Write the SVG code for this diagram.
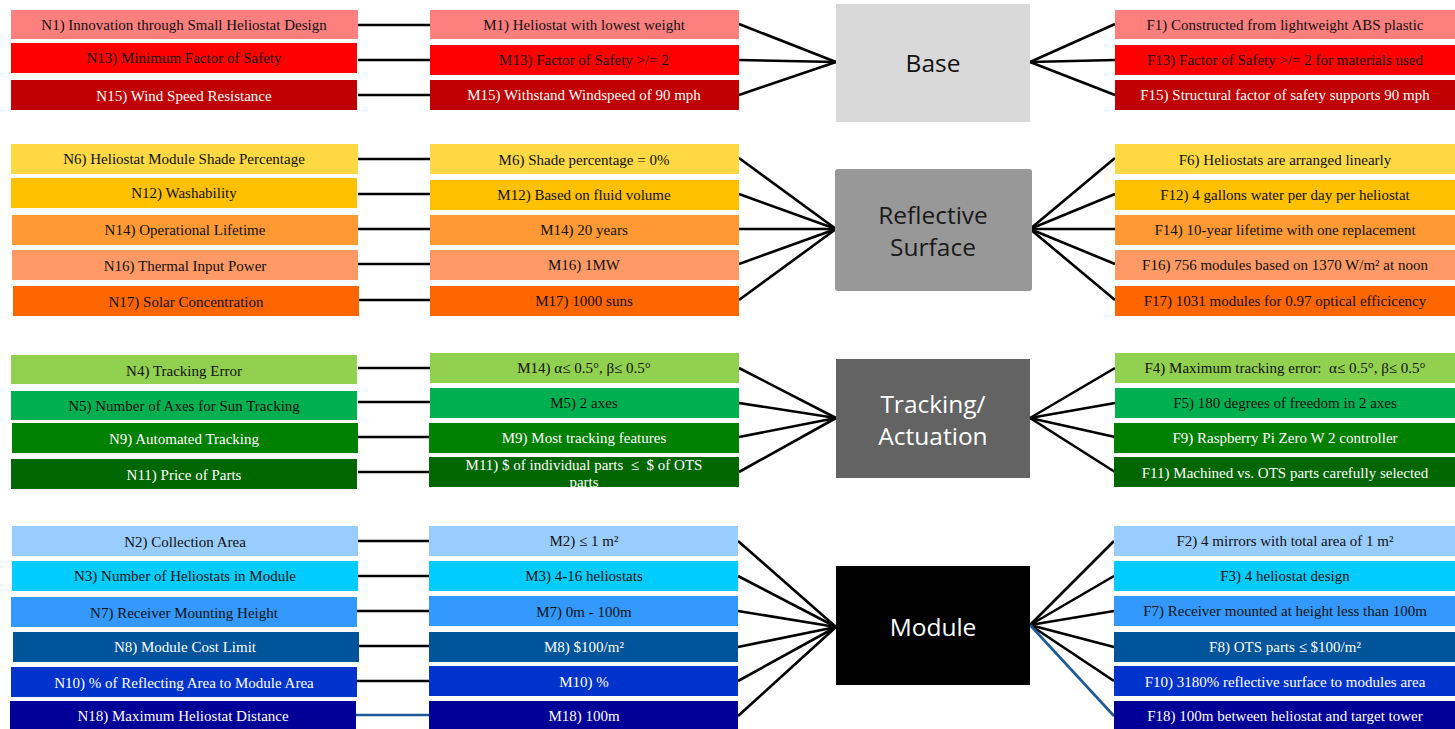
<svg xmlns="http://www.w3.org/2000/svg" width="1455" height="729" viewBox="0 0 1455 729">
<style>
text{font-family:"Liberation Serif","Times New Roman",serif;font-size:15px;text-anchor:middle}
.d{fill:#111}
.w{fill:#fff}
.hub{font-family:"Open Sans","Noto Sans","DejaVu Sans",sans-serif;font-size:24.5px}
.c line{stroke:#000;stroke-width:2.6}
.c line.b{stroke:#1f5a96}
</style>
<defs>
<clipPath id="m11clip"><rect x="429" y="457" width="310" height="30"/></clipPath>
</defs>
<rect width="1455" height="729" fill="#fff"/>

<g class="c" id="connectors">
<!-- Base -->
<line x1="358" y1="25" x2="430" y2="25"/>
<line x1="358" y1="60" x2="430" y2="60"/>
<line x1="358" y1="95" x2="430" y2="95"/>
<line x1="739" y1="24" x2="836" y2="62"/>
<line x1="739" y1="60" x2="836" y2="62"/>
<line x1="739" y1="95" x2="836" y2="62"/>
<line x1="1030" y1="62" x2="1115" y2="24"/>
<line x1="1030" y1="62" x2="1115" y2="60"/>
<line x1="1030" y1="62" x2="1115" y2="95"/>
<!-- Reflective -->
<line x1="358" y1="159" x2="430" y2="159"/>
<line x1="358" y1="194" x2="430" y2="194"/>
<line x1="358" y1="229" x2="430" y2="229"/>
<line x1="358" y1="264" x2="430" y2="264"/>
<line x1="358" y1="300" x2="430" y2="300"/>
<line x1="739" y1="158" x2="836" y2="229"/>
<line x1="739" y1="194" x2="836" y2="229"/>
<line x1="739" y1="229" x2="836" y2="229"/>
<line x1="739" y1="264" x2="836" y2="229"/>
<line x1="739" y1="300" x2="836" y2="229"/>
<line x1="1030" y1="229" x2="1115" y2="158"/>
<line x1="1030" y1="229" x2="1115" y2="194"/>
<line x1="1030" y1="229" x2="1115" y2="229"/>
<line x1="1030" y1="229" x2="1115" y2="264"/>
<line x1="1030" y1="229" x2="1115" y2="300"/>
<!-- Tracking -->
<line x1="358" y1="368" x2="430" y2="368"/>
<line x1="358" y1="402" x2="430" y2="402"/>
<line x1="358" y1="437" x2="430" y2="437"/>
<line x1="358" y1="472" x2="430" y2="472"/>
<line x1="739" y1="368" x2="836" y2="418"/>
<line x1="739" y1="403" x2="836" y2="418"/>
<line x1="739" y1="437" x2="836" y2="418"/>
<line x1="739" y1="472" x2="836" y2="418"/>
<line x1="1030" y1="418" x2="1115" y2="368"/>
<line x1="1030" y1="418" x2="1115" y2="403"/>
<line x1="1030" y1="418" x2="1115" y2="437"/>
<line x1="1030" y1="418" x2="1115" y2="472"/>
<!-- Module -->
<line x1="357" y1="541" x2="429" y2="541"/>
<line x1="357" y1="576" x2="429" y2="576"/>
<line x1="357" y1="611" x2="429" y2="611"/>
<line x1="357" y1="646" x2="429" y2="646"/>
<line x1="357" y1="681" x2="429" y2="681"/>
<line class="b" x1="356" y1="715" x2="429" y2="715"/>
<line x1="738" y1="541" x2="836" y2="627"/>
<line x1="738" y1="576" x2="836" y2="627"/>
<line x1="738" y1="611" x2="836" y2="627"/>
<line x1="738" y1="647" x2="836" y2="627"/>
<line x1="738" y1="681" x2="836" y2="627"/>
<line x1="738" y1="716" x2="836" y2="627"/>
<line x1="1030" y1="625" x2="1114" y2="541"/>
<line x1="1030" y1="625" x2="1114" y2="576"/>
<line x1="1030" y1="625" x2="1114" y2="611"/>
<line x1="1030" y1="625" x2="1114" y2="647"/>
<line x1="1030" y1="625" x2="1114" y2="681"/>
<line class="b" x1="1030" y1="625" x2="1114" y2="716"/>
</g>

<!-- Hubs -->
<g id="hub-base"><rect x="836" y="4" width="194" height="118" fill="#d9d9d9"/><text class="hub d" x="933" y="72">Base</text></g>
<g id="hub-reflective"><rect x="835" y="169" width="197" height="122" rx="3" fill="#989898"/><text class="hub" fill="#1a1a1a" x="933" y="224">Reflective</text><text class="hub" fill="#1a1a1a" x="933" y="256">Surface</text></g>
<g id="hub-tracking"><rect x="836" y="359" width="194" height="119" fill="#636363"/><text class="hub w" x="933" y="413">Tracking/</text><text class="hub w" x="933" y="445">Actuation</text></g>
<g id="hub-module"><rect x="836" y="566" width="194" height="119" fill="#000"/><text class="hub w" x="933" y="636">Module</text></g>

<!-- Base row -->
<g id="N1"><rect x="11" y="10" width="347" height="29" fill="#ff7f7f"/><text class="d" x="184" y="30">N1) Innovation through Small Heliostat Design</text></g>
<g id="N13"><rect x="11" y="43" width="346" height="30" fill="#ff0000"/><text class="d" x="184" y="63">N13) Minimum Factor of Safety</text></g>
<g id="N15"><rect x="11" y="80" width="346" height="30" fill="#c00000"/><text class="w" x="184" y="101">N15) Wind Speed Resistance</text></g>
<g id="M1"><rect x="430" y="10" width="309" height="29" fill="#ff7f7f"/><text class="d" x="584" y="30">M1) Heliostat with lowest weight</text></g>
<g id="M13"><rect x="430" y="45" width="309" height="30" fill="#ff0000"/><text class="d" x="584" y="65">M13) Factor of Safety &gt;/= 2</text></g>
<g id="M15"><rect x="430" y="80" width="309" height="30" fill="#c00000"/><text class="w" x="584" y="100">M15) Withstand Windspeed of 90 mph</text></g>
<g id="F1"><rect x="1115" y="10" width="340" height="29" fill="#ff7f7f"/><text class="d" x="1285" y="30">F1) Constructed from lightweight ABS plastic</text></g>
<g id="F13"><rect x="1115" y="45" width="340" height="30" fill="#ff0000"/><text class="d" x="1285" y="65">F13) Factor of Safety &gt;/= 2 for materials used</text></g>
<g id="F15"><rect x="1115" y="80" width="340" height="30" fill="#c00000"/><text class="w" x="1285" y="100">F15) Structural factor of safety supports 90 mph</text></g>

<!-- Reflective row -->
<g id="N6"><rect x="11" y="144" width="347" height="30" fill="#ffd944"/><text class="d" x="184" y="164">N6) Heliostat Module Shade Percentage</text></g>
<g id="N12"><rect x="11" y="178" width="346" height="30" fill="#ffc000"/><text class="d" x="184" y="198">N12) Washability</text></g>
<g id="N14"><rect x="12" y="215" width="346" height="30" fill="#ff9933"/><text class="d" x="185" y="235">N14) Operational Lifetime</text></g>
<g id="N16"><rect x="12" y="250" width="346" height="30" fill="#ff9966"/><text class="d" x="185" y="271">N16) Thermal Input Power</text></g>
<g id="N17"><rect x="13" y="286" width="346" height="30" fill="#ff6600"/><text class="d" x="186" y="307">N17) Solar Concentration</text></g>
<g id="M6"><rect x="430" y="144" width="309" height="30" fill="#ffd944"/><text class="d" x="584" y="165">M6) Shade percentage = 0%</text></g>
<g id="M12"><rect x="430" y="180" width="309" height="30" fill="#ffc000"/><text class="d" x="584" y="200">M12) Based on fluid volume</text></g>
<g id="M14a"><rect x="430" y="215" width="309" height="30" fill="#ff9933"/><text class="d" x="584" y="235">M14) 20 years</text></g>
<g id="M16"><rect x="430" y="250" width="309" height="30" fill="#ff9966"/><text class="d" x="584" y="270">M16) 1MW</text></g>
<g id="M17"><rect x="430" y="286" width="309" height="30" fill="#ff6600"/><text class="d" x="584" y="306">M17) 1000 suns</text></g>
<g id="F6"><rect x="1115" y="144" width="340" height="30" fill="#ffd944"/><text class="d" x="1285" y="165">F6) Heliostats are arranged linearly</text></g>
<g id="F12"><rect x="1115" y="180" width="340" height="30" fill="#ffc000"/><text class="d" x="1285" y="200">F12) 4 gallons water per day per heliostat</text></g>
<g id="F14"><rect x="1115" y="215" width="340" height="30" fill="#ff9933"/><text class="d" x="1285" y="235">F14) 10-year lifetime with one replacement</text></g>
<g id="F16"><rect x="1115" y="250" width="340" height="30" fill="#ff9966"/><text class="d" x="1285" y="270">F16) 756 modules based on 1370 W/m² at noon</text></g>
<g id="F17"><rect x="1115" y="286" width="340" height="30" fill="#ff6600"/><text class="d" x="1285" y="306">F17) 1031 modules for 0.97 optical efficicency</text></g>

<!-- Tracking row -->
<g id="N4"><rect x="11" y="355" width="346" height="29" fill="#92d050"/><text class="d" x="184" y="376">N4) Tracking Error</text></g>
<g id="N5"><rect x="11" y="391" width="346" height="29" fill="#00b050"/><text class="d" x="184" y="411">N5) Number of Axes for Sun Tracking</text></g>
<g id="N9"><rect x="12" y="423" width="346" height="30" fill="#008000"/><text class="w" x="184" y="444">N9) Automated Tracking</text></g>
<g id="N11"><rect x="11" y="459" width="346" height="30" fill="#006600"/><text class="w" x="184" y="480">N11) Price of Parts</text></g>
<g id="M14b"><rect x="430" y="353" width="309" height="30" fill="#92d050"/><text class="d" x="584" y="373">M14) α≤ 0.5°, β≤ 0.5°</text></g>
<g id="M5"><rect x="430" y="388" width="309" height="30" fill="#00b050"/><text class="d" x="584" y="408">M5) 2 axes</text></g>
<g id="M9"><rect x="429" y="423" width="310" height="30" fill="#008000"/><text class="w" x="584" y="443">M9) Most tracking features</text></g>
<g id="M11"><rect x="429" y="457" width="310" height="30" fill="#006600"/><g clip-path="url(#m11clip)"><text class="w" x="584" y="470">M11) $ of individual parts &#160;≤ &#160;$ of OTS</text><text class="w" x="584" y="487">parts</text></g></g>
<g id="F4"><rect x="1115" y="353" width="340" height="30" fill="#92d050"/><text class="d" x="1285" y="373">F4) Maximum tracking error: &#160;α≤ 0.5°, β≤ 0.5°</text></g>
<g id="F5"><rect x="1115" y="388" width="340" height="30" fill="#00b050"/><text class="d" x="1285" y="408">F5) 180 degrees of freedom in 2 axes</text></g>
<g id="F9"><rect x="1114" y="423" width="341" height="30" fill="#008000"/><text class="w" x="1285" y="443">F9) Raspberry Pi Zero W 2 controller</text></g>
<g id="F11"><rect x="1114" y="457" width="341" height="30" fill="#006600"/><text class="w" x="1285" y="478">F11) Machined vs. OTS parts carefully selected</text></g>

<!-- Module row -->
<g id="N2"><rect x="12" y="526" width="346" height="30" fill="#99ccff"/><text class="d" x="185" y="547">N2) Collection Area</text></g>
<g id="N3"><rect x="12" y="561" width="346" height="30" fill="#00ccff"/><text class="d" x="185" y="581">N3) Number of Heliostats in Module</text></g>
<g id="N7"><rect x="11" y="597" width="346" height="30" fill="#3399ff"/><text class="d" x="184" y="618">N7) Receiver Mounting Height</text></g>
<g id="N8"><rect x="13" y="632" width="346" height="30" fill="#00559a"/><text class="w" x="185" y="652">N8) Module Cost Limit</text></g>
<g id="N10"><rect x="11" y="667" width="346" height="30" fill="#0033cc"/><text class="w" x="184" y="688">N10) % of Reflecting Area to Module Area</text></g>
<g id="N18"><rect x="10" y="701" width="346" height="28" fill="#000099"/><text class="w" x="183" y="721">N18) Maximum Heliostat Distance</text></g>
<g id="M2"><rect x="429" y="526" width="309" height="30" fill="#99ccff"/><text class="d" x="584" y="546">M2) ≤ 1 m²</text></g>
<g id="M3"><rect x="429" y="561" width="309" height="30" fill="#00ccff"/><text class="d" x="584" y="581">M3) 4-16 heliostats</text></g>
<g id="M7"><rect x="429" y="596" width="309" height="30" fill="#3399ff"/><text class="d" x="584" y="617">M7) 0m - 100m</text></g>
<g id="M8"><rect x="429" y="632" width="309" height="30" fill="#00559a"/><text class="w" x="584" y="652">M8) $100/m²</text></g>
<g id="M10"><rect x="429" y="666" width="309" height="30" fill="#0033cc"/><text class="w" x="584" y="687">M10) %</text></g>
<g id="M18"><rect x="429" y="701" width="309" height="28" fill="#000099"/><text class="w" x="584" y="721">M18) 100m</text></g>
<g id="F2"><rect x="1114" y="526" width="341" height="30" fill="#99ccff"/><text class="d" x="1285" y="546">F2) 4 mirrors with total area of 1 m²</text></g>
<g id="F3"><rect x="1114" y="561" width="341" height="30" fill="#00ccff"/><text class="d" x="1285" y="581">F3) 4 heliostat design</text></g>
<g id="F7"><rect x="1114" y="596" width="341" height="30" fill="#3399ff"/><text class="d" x="1285" y="616">F7) Receiver mounted at height less than 100m</text></g>
<g id="F8"><rect x="1114" y="632" width="341" height="30" fill="#00559a"/><text class="w" x="1285" y="652">F8) OTS parts ≤ $100/m²</text></g>
<g id="F10"><rect x="1114" y="666" width="341" height="30" fill="#0033cc"/><text class="w" x="1285" y="687">F10) 3180% reflective surface to modules area</text></g>
<g id="F18"><rect x="1114" y="701" width="341" height="28" fill="#000099"/><text class="w" x="1285" y="721">F18) 100m between heliostat and target tower</text></g>
</svg>
